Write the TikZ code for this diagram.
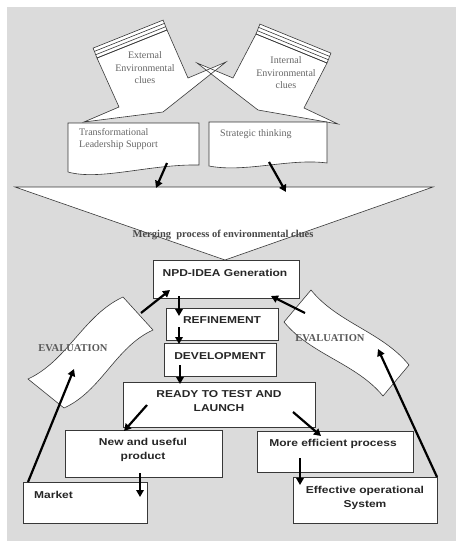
\documentclass[tikz,border=0pt]{standalone}
\usepackage{fontspec}
\setmainfont{Liberation Serif}
\newfontfamily\boxfont{Liberation Sans}[FakeStretch=1.2]
\usetikzlibrary{arrows.meta,calc}
\definecolor{bgc}{HTML}{DBDBDB}
\definecolor{edgec}{HTML}{383838}
\definecolor{sgray}{HTML}{666666}
\begin{document}
\begin{tikzpicture}[x=1pt,y=-1pt,
  box/.style={draw=edgec, fill=white, line width=0.8pt, inner sep=0pt, outer sep=0pt},
  btxt/.style={font=\boxfont\bfseries\fontsize{10}{14}\selectfont, text=black!85, align=center, inner sep=0pt},
  serifText/.style={font=\fontsize{10}{12.5}\selectfont, text=sgray, align=center, inner sep=0pt},
  evalText/.style={font=\bfseries\fontsize{10.5}{12}\selectfont, text=black!65, inner sep=0pt},
  shp/.style={draw=edgec, fill=white, line width=0.6pt, line join=miter},
  arr/.style={-{Triangle[length=7pt,width=7.5pt]}, line width=2.2pt, black},
]
\fill[bgc] (7,7) rectangle (456,541);
\useasboundingbox (0,0) rectangle (456,543);

% ---------- callouts ----------
\fill[white] (97,58) -- (167,30) -- (188,78) -- (226,62) -- (163,112) -- (84,122) -- (119,107) -- cycle;
\fill[white] (256,34) -- (327,63) -- (304,108) -- (338,124) -- (258,110) -- (197,63) -- (233,78) -- cycle;
% stacked page edges
\draw[shp] ($(97,58)+3*(-1.3,-3.3)$) -- ($(167,30)+3*(-1.3,-3.3)$) -- (167,30) -- (97,58) -- cycle;
\foreach \k in {1,2}
  \draw[edgec, line width=0.6pt] ($(97,58)+\k*(-1.3,-3.3)$) -- ($(167,30)+\k*(-1.3,-3.3)$);
\draw[shp] ($(256,34)+3*(1.3,-3.3)$) -- ($(327,63)+3*(1.3,-3.3)$) -- (327,63) -- (256,34) -- cycle;
\foreach \k in {1,2}
  \draw[edgec, line width=0.6pt] ($(256,34)+\k*(1.3,-3.3)$) -- ($(327,63)+\k*(1.3,-3.3)$);
% outlines
\draw[shp, fill=none] (97,58) -- (167,30) -- (188,78) -- (226,62) -- (163,112) -- (84,122) -- (119,107) -- cycle;
\draw[shp, fill=none] (256,34) -- (327,63) -- (304,108) -- (338,124) -- (258,110) -- (197,63) -- (233,78) -- cycle;
\node[serifText] (ext) at (145,68) {External\\Environmental\\clues};
\node[serifText] (int) at (286,73) {Internal\\Environmental\\clues};

% ---------- document boxes ----------
\draw[shp] (68,123) -- (199,123) -- (199,165) .. controls (150,164) and (100,181) .. (68,172) -- cycle;
\draw[shp] (209,122) -- (327,122) -- (327,163) .. controls (290,158) and (245,173) .. (209,166) -- cycle;
\node[serifText, align=left, anchor=west] (tls) at (79,139) {Transformational\\Leadership Support};
\node[serifText, anchor=west] (st) at (220,134) {Strategic thinking};

% ---------- merging triangle ----------
\draw[shp] (15,187) -- (433,187) -- (225,260) -- cycle;
\node[font=\bfseries\fontsize{10.5}{12}\selectfont, text=black!72, inner sep=0pt] (merge) at (223,235) {Merging\ \ process of environmental clues};

% ---------- evaluation tapes ----------
\draw[shp] (123,297) -- (153,330) .. controls (115.4,347) and (101.6,391) .. (64,408)
  -- (28,379) .. controls (67.6,360.7) and (83.4,315.3) .. cycle;
\draw[shp] (311,290) .. controls (337.6,323) and (382.4,332) .. (409,365) -- (383,396)
  .. controls (356.1,363.3) and (310.9,354.7) .. (284,322) -- cycle;
\node[evalText] (evl) at (73,348) {EVALUATION};
\node[evalText] (evr) at (330,338) {EVALUATION};

% ---------- process boxes ----------
\node[box, minimum width=146pt, minimum height=38pt] (npd) at (226,279) {};
\node[btxt] at (225,273) {NPD-IDEA Generation};
\node[box, minimum width=112pt, minimum height=32pt] (ref) at (222,324) {};
\node[btxt] at (222,320) {REFINEMENT};
\node[box, minimum width=112pt, minimum height=33pt] (dev) at (220,359.5) {};
\node[btxt] at (220,356) {DEVELOPMENT};
\node[box, minimum width=192pt, minimum height=45pt] (ready) at (219,404.5) {};
\node[btxt] at (219,401) {READY TO TEST AND\\LAUNCH};
\node[box, minimum width=157pt, minimum height=47pt] (new) at (143.5,453.5) {};
\node[btxt] at (143,450) {New and useful\\product};
\node[box, minimum width=156pt, minimum height=41pt] (more) at (335,451.5) {};
\node[btxt] at (333,444) {More efficient process};
\node[box, minimum width=124pt, minimum height=41pt] (market) at (85,502.5) {};
\node[btxt, anchor=west] at (34,495) {Market};
\node[box, minimum width=144pt, minimum height=46pt] (eff) at (365,500) {};
\node[btxt] at (365,498) {Effective operational\\System};

% ---------- arrow end points ----------
\coordinate (a1s) at (167,163); \coordinate (a1e) at (156,188);
\coordinate (a2s) at (269,162); \coordinate (a2e) at (286,192);
\coordinate (a3s) at (179,296); \coordinate (a3e) at (179,316);
\coordinate (a4s) at (179,327); \coordinate (a4e) at (179,344);
\coordinate (a5s) at (180,365); \coordinate (a5e) at (180,384);
\coordinate (a6s) at (147,405); \coordinate (a6e) at (124,431);
\coordinate (a7s) at (293,412); \coordinate (a7e) at (321,436);
\coordinate (a8s) at (140,473); \coordinate (a8e) at (140,497);
\coordinate (a9s) at (300,458); \coordinate (a9e) at (300,485);
\coordinate (a10s) at (28,482); \coordinate (a10e) at (74,369);
\coordinate (a11s) at (437,477); \coordinate (a11e) at (378,349);
\coordinate (a12s) at (141,313); \coordinate (a12e) at (170,290);
\coordinate (a13s) at (305,313); \coordinate (a13e) at (271,296);

\draw[arr] (a1s) -- (a1e);
\draw[arr] (a2s) -- (a2e);
\draw[arr] (a3s) -- (a3e);
\draw[arr] (a4s) -- (a4e);
\draw[arr] (a5s) -- (a5e);
\draw[arr] (a6s) -- (a6e);
\draw[arr] (a7s) -- (a7e);
\draw[arr] (a8s) -- (a8e);
\draw[arr] (a9s) -- (a9e);
\draw[arr] (a10s) -- (a10e);
\draw[arr] (a11s) -- (a11e);
\draw[arr] (a12s) -- (a12e);
\draw[arr] (a13s) -- (a13e);
\end{tikzpicture}
\end{document}
